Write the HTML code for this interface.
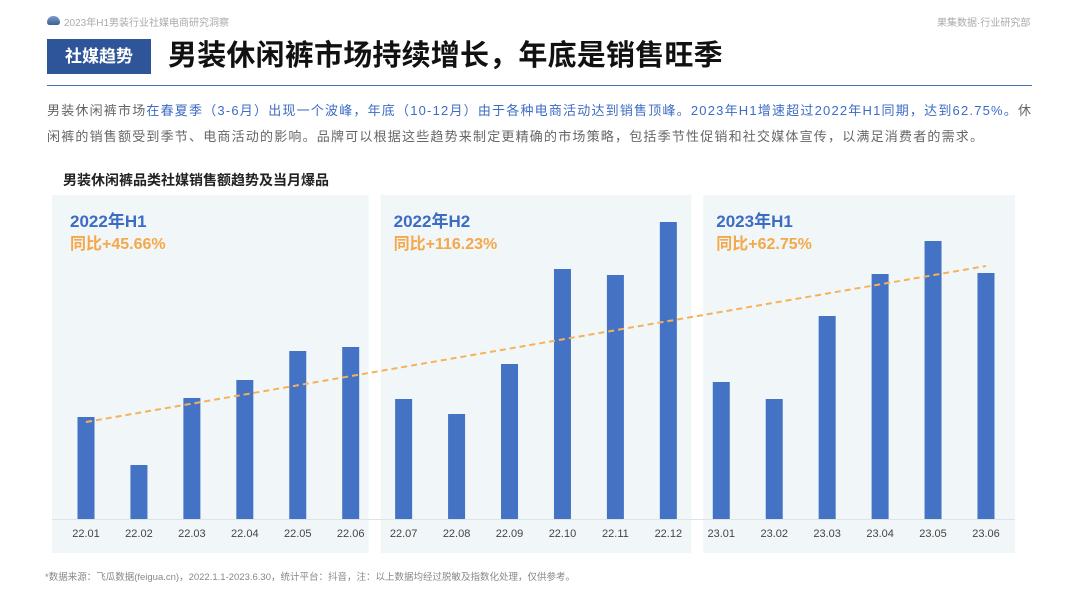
<!DOCTYPE html>
<html><head><meta charset="utf-8"><style>
body{margin:0;width:1080px;height:608px;background:#fff;font-family:"Liberation Sans","Noto Sans CJK SC",sans-serif;position:relative;overflow:hidden}
.abs{position:absolute;white-space:nowrap}
</style></head><body>
<div class="abs" style="left:47px;top:16px;width:13px;height:9px;border-radius:7px 7px 3px 3px;background:linear-gradient(#7a9cc8,#3d5f92)"></div>
<div class="abs" style="left:64px;top:14px;font-size:10px;color:#aaa">2023年H1男装行业社媒电商研究洞察</div>
<div class="abs" style="left:937px;top:14px;font-size:10px;color:#aaa">果集数据·行业研究部</div>
<div class="abs" style="left:47px;top:39px;width:104px;height:35px;background:#2e5597;color:#fff;font-size:17px;font-weight:bold;line-height:35px;text-align:center">社媒趋势</div>
<div class="abs" style="left:168px;top:36px;font-size:29px;font-weight:bold;color:#111;line-height:40px;letter-spacing:0.2px">男装休闲裤市场持续增长，年底是销售旺季</div>
<div class="abs" style="left:47px;top:85px;width:985px;height:1px;background:#4a72b8"></div>
<div class="abs" style="left:47px;top:98px;width:995px;white-space:normal;font-size:13px;line-height:26px;color:#666;letter-spacing:1.2px">男装休闲裤市场<span style="color:#3d6cc4">在春夏季（3-6月）出现一个波峰，年底（10-12月）由于各种电商活动达到销售顶峰。2023年H1增速超过2022年H1同期，达到62.75%。</span>休闲裤的销售额受到季节、电商活动的影响。品牌可以根据这些趋势来制定更精确的市场策略，包括季节性促销和社交媒体宣传，以满足消费者的需求。</div>
<div class="abs" style="left:63px;top:170px;font-size:14px;font-weight:bold;color:#222">男装休闲裤品类社媒销售额趋势及当月爆品</div>
<svg class="abs" style="left:0;top:0" width="1080" height="608">
<g id="panels"></g><g id="bars"></g><g id="labels"></g><g id="trend"></g>
</svg>
<div class="abs" style="left:45px;top:569px;font-size:9.5px;color:#888">*数据来源：飞瓜数据(feigua.cn)，2022.1.1-2023.6.30，统计平台：抖音，注：以上数据均经过脱敏及指数化处理，仅供参考。</div>
<script>
const categories=["22.01","22.02","22.03","22.04","22.05","22.06","22.07","22.08","22.09","22.10","22.11","22.12","23.01","23.02","23.03","23.04","23.05","23.06"];
const salesValues=[102,54,121,139,168,172,120,105,155,250,244,297,137,120,203,245,278,246];
const periodNames=["2022年H1","2022年H2","2023年H1"];
const periodGrowth=["同比+45.66%","同比+116.23%","同比+62.75%"];
const trendStart=97, trendEnd=253;
const NS="http://www.w3.org/2000/svg";
const x0=86, step=52.94, base=519, bw=17;
function xs(i){return x0+i*step}
function ys(v){return base-v}
function mk(t,a,p){const e=document.createElementNS(NS,t);for(const k in a)e.setAttribute(k,a[k]);p.appendChild(e);return e}
const P=document.getElementById('panels'),B=document.getElementById('bars'),L=document.getElementById('labels'),T=document.getElementById('trend');
const padL=[34,23,18], padR=[18,23,29], txtOff=[18,13,13];
periodNames.forEach((n,k)=>{
 const l=xs(k*6)-padL[k], r=xs(k*6+5)+padR[k];
 const rect=mk('rect',{x:l,y:195,width:r-l,height:358,fill:'#f1f7f8'},P);
 
 
 const t1=mk('text',{x:l+txtOff[k],y:227,fill:'#3d6cc4','font-size':17,'font-weight':'bold'},P);t1.textContent=n;
 
 
 const t2=mk('text',{x:l+txtOff[k],y:249,fill:'#f5a84a','font-size':16,'font-weight':'bold'},P);t2.textContent=periodGrowth[k];
 
 
});
const ax=mk('line',{x1:52,x2:1015,y1:base+0.5,y2:base+0.5,stroke:'#dde4e6'},P);


categories.forEach((c,i)=>{
 const r=mk('rect',{x:xs(i)-bw/2,y:ys(salesValues[i]),width:bw,height:salesValues[i],fill:'#4472c4'},B);
 
 
 const t=mk('text',{x:xs(i),y:537,'text-anchor':'middle','font-size':11,fill:'#444'},L);t.textContent=c;
 
 
});
const tl=mk('line',{x1:xs(0),y1:ys(trendStart),x2:xs(categories.length-1),y2:ys(trendEnd),stroke:'#f5b25a','stroke-width':2,'stroke-dasharray':'6,4'},T);


</script>
</body></html>
